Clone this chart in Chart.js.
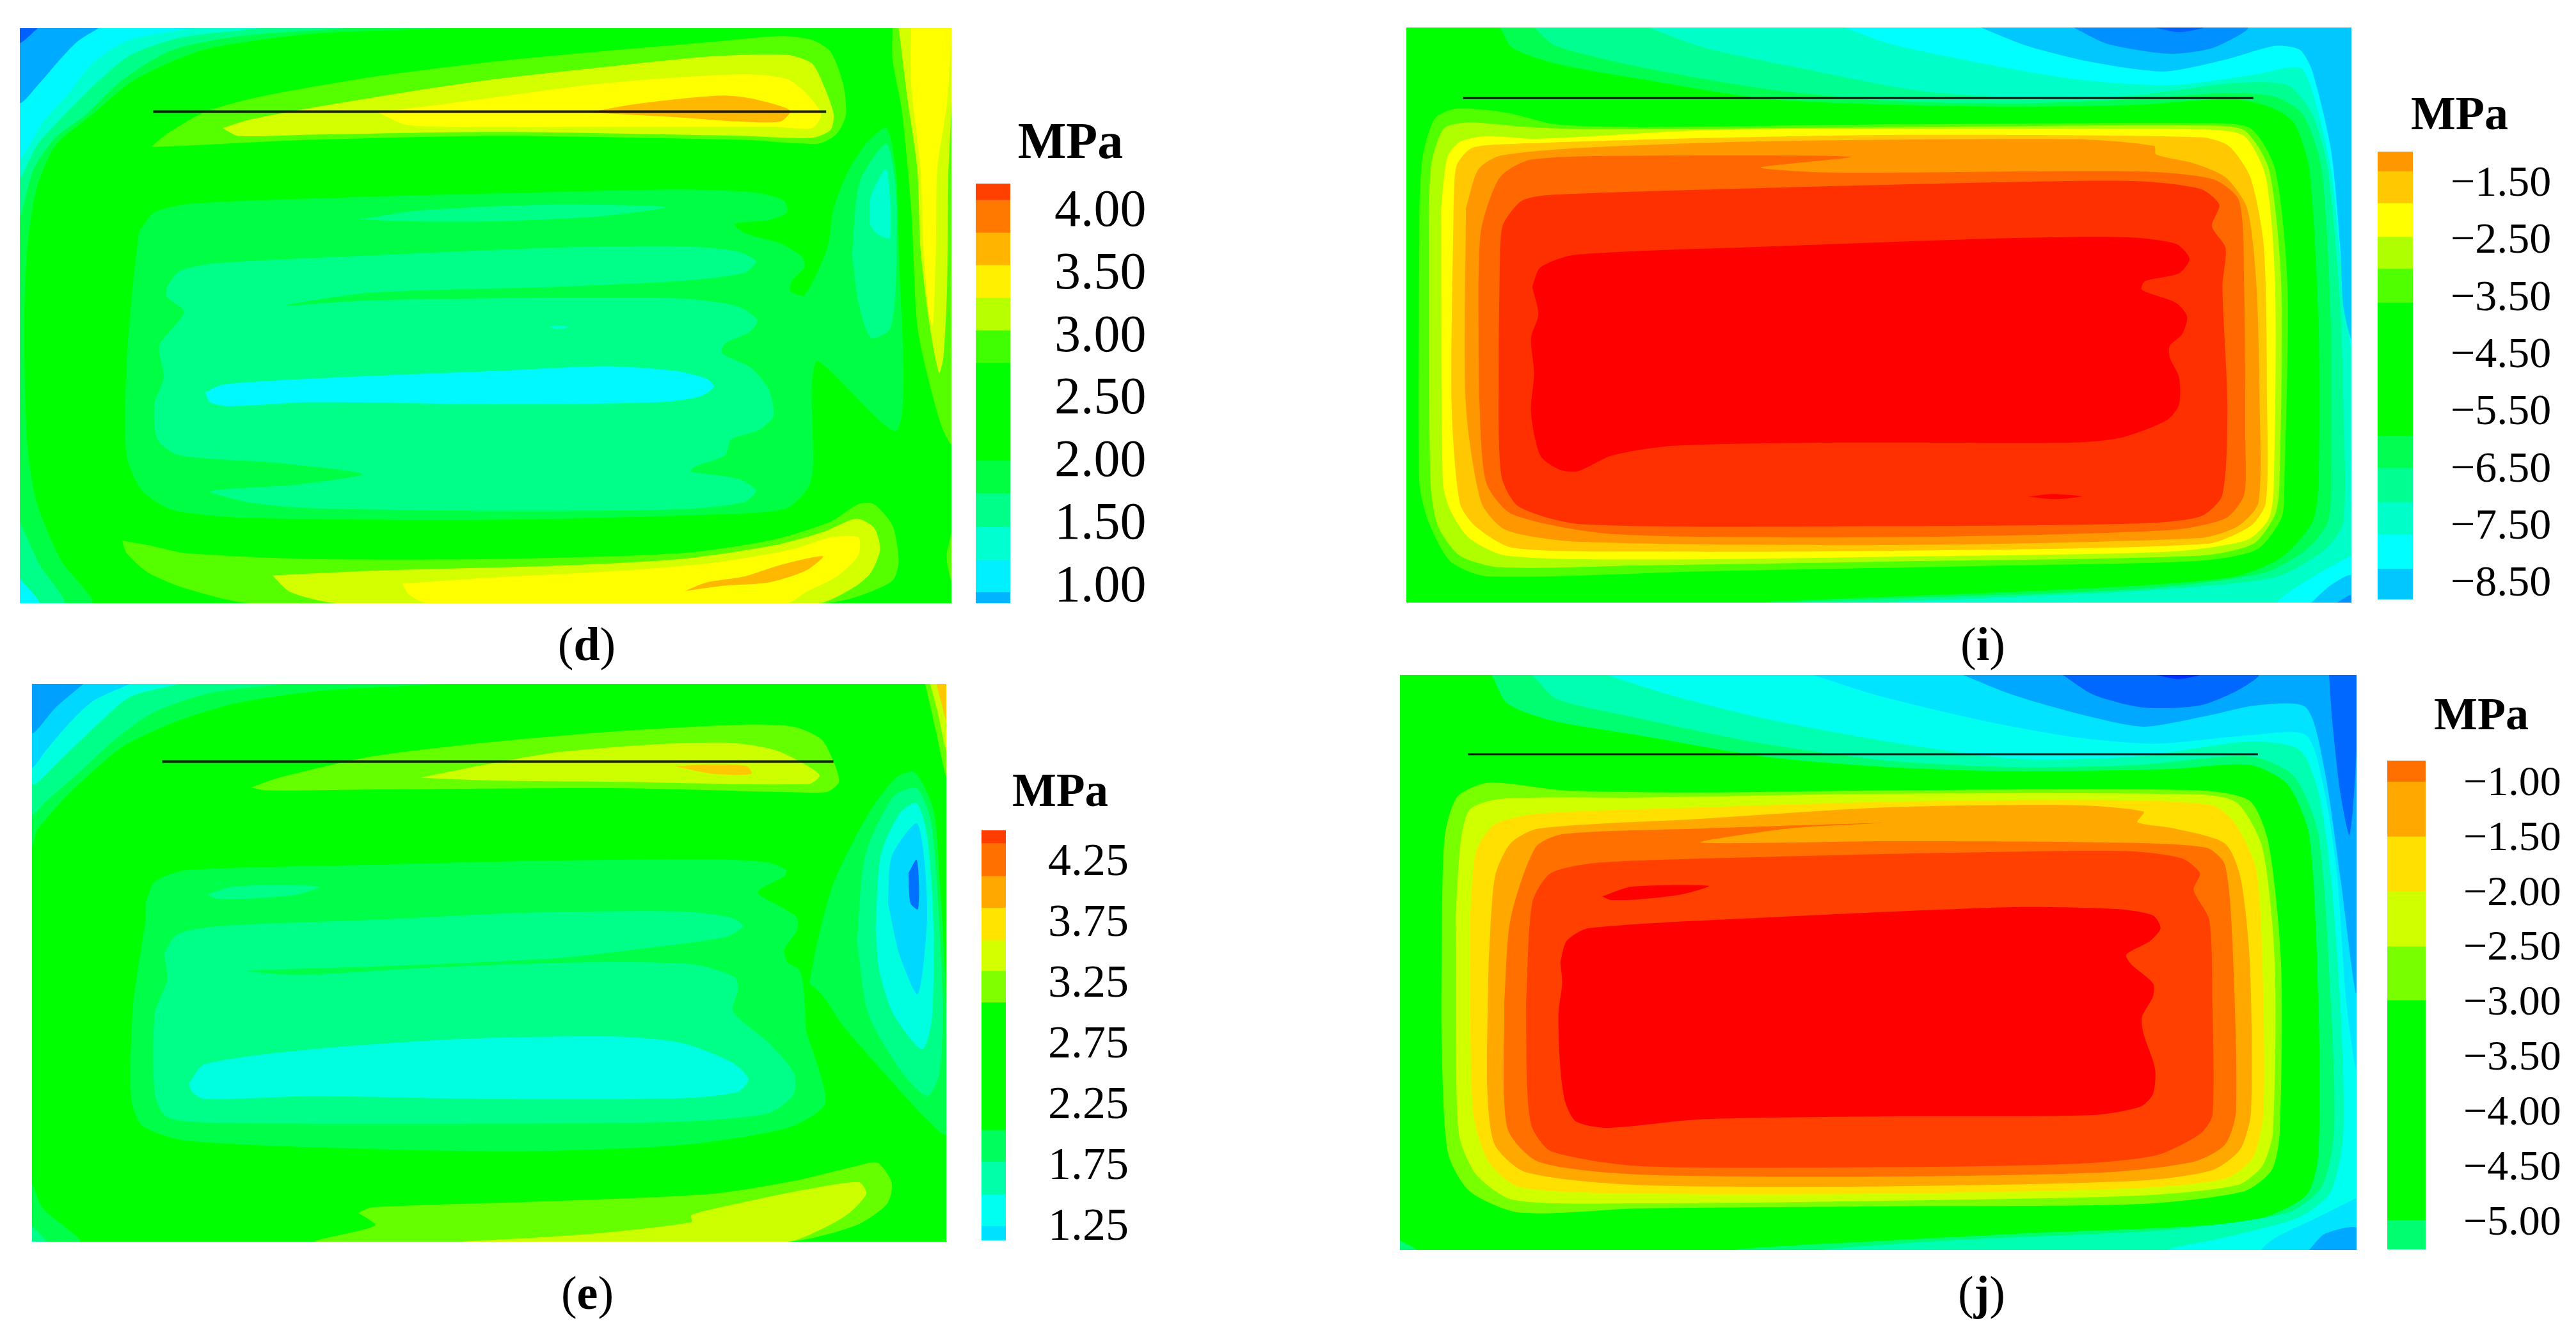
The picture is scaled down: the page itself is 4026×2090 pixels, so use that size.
<!DOCTYPE html>
<html>
<head>
<meta charset="utf-8">
<title>Stress contours</title>
<script src="https://cdn.jsdelivr.net/npm/chart.js@4/dist/chart.umd.min.js"></script>
<style>
  html, body { margin: 0; padding: 0; background: #fff; width: 4026px; height: 2090px; overflow: hidden; }
  canvas { position: absolute; }
  .txt { position: absolute; font-family: "Liberation Serif", serif; color: #000; transform: translate(-50%, -50%); white-space: nowrap; line-height: 1; }
  .unit { font-weight: bold; }
</style>
</head>
<body>
<script>
// colour bars: band edges (MPa), band colours, tick labels
const dTicks = [4, 3.5, 3, 2.5, 2, 1.5, 1];
const dBarEdges = [4.20, 4.07, 3.81, 3.55, 3.29, 3.03, 2.77, 1.99, 1.73, 1.46, 1.20, 0.94, 0.85];
const dBarColors = ['#ff4000', '#ff7800', '#ffb400', '#fff000', '#b8ff00', '#40ff00', '#00ff00', '#00ff40', '#00ff88', '#00ffd0', '#00f0ff', '#00b4ff'];
const eTicks = [4.25, 3.75, 3.25, 2.75, 2.25, 1.75, 1.25];
const eBarEdges = [4.495, 4.39, 4.12, 3.86, 3.59, 3.34, 3.08, 2.03, 1.77, 1.50, 1.24, 1.12];
const eBarColors = ['#ff3c00', '#ff7000', '#ffa800', '#ffe400', '#d4ff00', '#80ff00', '#00ff00', '#00ff5c', '#00ffa8', '#00fff0', '#00e0ff'];
const iTicks = [-1.5, -2.5, -3.5, -4.5, -5.5, -6.5, -7.5, -8.5];
const iBarEdges = [-0.96, -1.30, -1.86, -2.45, -3.01, -3.60, -5.93, -6.49, -7.09, -7.66, -8.26, -8.80];
const iBarColors = ['#ff9800', '#ffc800', '#ffff00', '#b0ff00', '#50ff00', '#00ff00', '#00ff50', '#00ff90', '#00ffc8', '#00ffff', '#00c8ff'];
const jTicks = [-1, -1.5, -2, -2.5, -3, -3.5, -4, -4.5, -5];
const jBarEdges = [-0.81, -1.00, -1.50, -2.00, -2.50, -2.99, -4.99, -5.26];
const jBarColors = ['#ff7000', '#ffa800', '#ffe000', '#d0ff00', '#78ff00', '#00ff00', '#00ff70'];

// contour levels of each plate and their colours
const dLevels = [0.6, 0.8, 1.0, 1.3, 1.6, 1.85, 2.9, 3.15, 3.4, 3.7];
const dColors = ['#0060ff', '#00aaff', '#00f8ff', '#00ffd0', '#00ff88', '#00ff44', '#55ff00', '#d4ff00', '#ffff00', '#ffb800'];
const eLevels = [0.9, 1.1, 1.3, 1.6, 1.9, 3.2, 3.45, 3.7, 1.0];
const eColors = ['#0070ff', '#00a0ff', '#00ffe0', '#00ff88', '#00ff48', '#66ff00', '#ccff00', '#ffc800', '#00d8ff'];
const iLevels = [-9.5, -9, -8.5, -8, -7.4, -6.8, -6.2, -3.3, -2.7, -2.2, -1.6, -1.1, -0.7, -0.3, 0];
const iColors = ['#0060ff', '#0090ff', '#00c8ff', '#00ffff', '#00ffc8', '#00ff90', '#00ff50', '#50ff00', '#b0ff00', '#ffff00', '#ffc800', '#ff9800', '#ff6800', '#ff3000', '#ff0000'];
const jLevels = [-7, -6.5, -6, -5.7, -5.4, -5.1, -5, -2.8, -2.2, -1.7, -1.2, -0.9, -0.6, -0.2];
const jColors = ['#0030ff', '#0068ff', '#00a8ff', '#00e4ff', '#00fff0', '#00ffb0', '#00ff70', '#78ff00', '#d0ff00', '#ffe000', '#ffa800', '#ff7000', '#ff4000', '#ff0000'];

// contour outlines on the plate, [level, outline], drawn from back to front
const dContours = [
  [1.85, [[720,40],[500,55],[330,95],[220,170],[150,260],[90,340],[60,450],[45,600],[40,800],[45,1100],[60,1250],[100,1400],[150,1508],[33,1508],[33,40]]],
  [1.6, [[560,40],[390,60],[280,95],[200,170],[140,260],[90,320],[55,400],[33,520],[33,40]]],
  [1.6, [[33,1300],[65,1410],[105,1508],[33,1508]]],
  [1.3, [[420,40],[290,65],[210,110],[150,190],[100,270],[60,340],[33,420],[33,40]]],
  [1.0, [[310,40],[210,70],[150,130],[110,210],[70,280],[33,370],[33,40]]],
  [1.0, [[33,1445],[65,1508],[33,1508]]],
  [0.8, [[160,40],[125,75],[95,125],[65,180],[33,230],[33,40]]],
  [0.6, [[62,40],[33,78],[33,40]]],
  [2.9, [[1440,40],[1535,40],[1535,1100],[1520,1060],[1500,950],[1480,800],[1470,500],[1455,250],[1440,120]]],
  [2.9, [[1535,1330],[1527,1390],[1535,1450]]],
  [3.15, [[1450,40],[1535,40],[1535,230],[1530,420],[1528,700],[1522,880],[1515,920],[1500,800],[1485,600],[1480,400],[1465,230]]],
  [3.4, [[1470,40],[1535,40],[1528,230],[1512,400],[1510,600],[1505,800],[1498,760],[1490,600],[1485,400],[1470,180]]],
  [2.9, [[245,343],[270,310],[330,255],[420,215],[600,165],[800,125],[1000,95],[1150,75],[1260,60],[1310,70],[1340,100],[1360,180],[1365,260],[1350,310],[1320,335],[1200,325],[800,315],[500,325],[300,340]]],
  [3.15, [[360,295],[400,275],[480,250],[650,205],[800,170],[1000,135],[1150,112],[1270,108],[1310,130],[1330,190],[1345,260],[1340,300],[1310,320],[1200,315],[800,305],[500,312],[385,315]]],
  [3.4, [[610,255],[760,225],[950,185],[1100,165],[1210,158],[1270,170],[1300,205],[1325,260],[1310,295],[1250,292],[1000,292],[800,292],[660,288]]],
  [3.7, [[950,255],[1020,235],[1100,220],[1170,212],[1220,222],[1275,250],[1260,278],[1190,278],[1100,268]]],
  [1.85, [[225,560],[250,510],[310,488],[600,470],[900,458],[1100,452],[1220,460],[1265,480],[1270,510],[1240,530],[1185,540],[1205,565],[1260,590],[1295,625],[1298,650],[1278,685],[1275,710],[1298,722],[1335,600],[1345,500],[1370,400],[1400,330],[1430,295],[1445,400],[1450,600],[1448,1065],[1320,890],[1310,950],[1312,1150],[1305,1210],[1270,1265],[1180,1280],[800,1295],[400,1290],[280,1270],[230,1220],[205,1130],[205,900],[215,700]]],
  [1.6, [[270,700],[290,660],[350,640],[600,620],[900,600],[1100,597],[1190,610],[1220,635],[1200,665],[1100,685],[900,700],[600,715],[460,748],[600,735],[900,728],[1100,730],[1190,750],[1222,785],[1210,815],[1170,845],[1165,870],[1210,905],[1240,960],[1248,1030],[1225,1065],[1180,1090],[1170,1130],[1120,1160],[1115,1172],[1190,1190],[1220,1220],[1200,1250],[1100,1268],[800,1272],[500,1265],[400,1250],[340,1222],[480,1205],[585,1178],[450,1150],[290,1130],[255,1090],[250,1000],[265,930],[258,850],[298,765],[270,725]]],
  [1.6, [[580,528],[680,505],[900,490],[1075,497],[970,520],[800,533],[650,533]]],
  [1.6, [[1375,620],[1380,500],[1390,420],[1430,335],[1445,450],[1445,700],[1435,810],[1405,830],[1385,740]]],
  [1.3, [[1403,540],[1405,470],[1430,400],[1436,575],[1415,565]]],
  [1.0, [[332,970],[360,950],[500,935],[800,915],[980,903],[1090,915],[1140,935],[1152,955],[1130,980],[1060,995],[800,1000],[500,995],[370,1005],[340,995]]],
  [1.3, [[885,803],[900,799],[918,803],[900,808]]],
  [2.9, [[198,1348],[240,1360],[300,1380],[500,1395],[800,1395],[1100,1380],[1250,1345],[1340,1300],[1385,1255],[1410,1255],[1440,1310],[1450,1400],[1440,1450],[1385,1490],[1330,1508],[405,1508],[300,1470],[240,1430],[205,1380]]],
  [3.15, [[440,1437],[600,1425],[900,1412],[1100,1395],[1250,1360],[1330,1325],[1382,1292],[1410,1315],[1420,1370],[1405,1430],[1380,1465],[1320,1508],[545,1508],[470,1480]]],
  [3.4, [[650,1458],[800,1442],[1000,1425],[1150,1405],[1280,1370],[1340,1340],[1385,1340],[1385,1385],[1350,1440],[1300,1480],[1270,1508],[690,1508],[660,1485]]],
  [3.7, [[1105,1477],[1140,1455],[1200,1440],[1260,1410],[1328,1388],[1300,1425],[1240,1455],[1170,1463],[1135,1470]]]
];
const eContours = [
  [1.9, [[720,44],[520,60],[380,90],[280,135],[200,190],[150,250],[100,320],[60,390],[52,430],[52,44]]],
  [1.9, [[52,1220],[70,1280],[130,1358],[52,1358]]],
  [1.6, [[460,44],[340,65],[250,110],[190,170],[130,250],[75,320],[52,350],[52,44]]],
  [1.6, [[52,1320],[75,1358],[52,1358]]],
  [1.3, [[290,44],[210,75],[150,150],[100,220],[52,280],[52,44]]],
  [1.0, [[210,44],[150,85],[110,140],[75,200],[52,240],[52,44]]],
  [1.1, [[135,44],[90,100],[52,160],[52,44]]],
  [3.2, [[1492,44],[1526,44],[1526,260],[1510,160]]],
  [3.45, [[1500,44],[1526,44],[1526,200],[1512,110]]],
  [3.7, [[1510,44],[1526,44],[1526,130],[1518,90]]],
  [3.2, [[405,288],[450,265],[600,215],[800,180],[1000,155],[1200,140],[1280,145],[1325,175],[1345,230],[1353,275],[1335,298],[1300,300],[1000,290],[600,293],[430,295]]],
  [3.45, [[678,265],[780,235],[900,205],[1050,187],[1180,183],[1250,200],[1300,235],[1322,260],[1305,280],[1000,275],[800,272]]],
  [3.7, [[1088,238],[1150,234],[1205,238],[1212,256],[1150,256]]],
  [1.9, [[235,560],[250,510],[300,483],[600,470],[900,460],[1150,457],[1240,465],[1268,482],[1265,497],[1222,535],[1260,570],[1285,595],[1285,625],[1265,670],[1270,700],[1290,720],[1298,800],[1300,860],[1320,950],[1330,1035],[1270,1090],[1100,1130],[850,1145],[600,1140],[300,1120],[230,1085],[212,1020],[215,800],[235,600]]],
  [1.6, [[265,680],[285,635],[350,615],[600,600],[850,583],[1100,580],[1180,595],[1198,615],[1170,640],[1050,665],[900,690],[600,710],[400,720],[480,730],[700,712],[950,700],[1120,705],[1185,735],[1190,765],[1182,815],[1240,890],[1280,960],[1280,1010],[1240,1055],[1100,1075],[800,1080],[350,1078],[270,1065],[250,1010],[250,820],[270,740]]],
  [1.6, [[335,540],[370,523],[440,518],[515,522],[480,540],[400,550],[350,550]]],
  [1.3, [[305,985],[330,940],[500,905],[750,880],[1000,875],[1100,890],[1180,935],[1207,975],[1190,1005],[1100,1020],[800,1022],[500,1015],[330,1022],[310,1005]]],
  [1.9, [[1305,750],[1320,640],[1345,510],[1400,350],[1445,265],[1475,252],[1505,340],[1515,500],[1526,800],[1526,1105],[1495,1070],[1450,1000],[1360,850],[1325,775]]],
  [1.6, [[1382,650],[1395,450],[1440,310],[1478,290],[1500,360],[1510,500],[1520,800],[1515,960],[1495,1015],[1450,950],[1400,820]]],
  [1.3, [[1412,620],[1420,450],[1450,350],[1478,325],[1495,400],[1505,600],[1503,830],[1487,905],[1440,820],[1418,720]]],
  [1.0, [[1432,560],[1438,450],[1478,372],[1490,450],[1495,600],[1480,775],[1450,680]]],
  [0.9, [[1465,490],[1478,458],[1482,520],[1480,575],[1468,560]]],
  [3.2, [[578,1290],[600,1277],[900,1262],[1150,1245],[1280,1215],[1380,1180],[1415,1172],[1438,1220],[1430,1270],[1380,1320],[1270,1358],[510,1358],[605,1320]]],
  [3.45, [[745,1358],[950,1340],[1115,1312],[1115,1295],[1200,1265],[1300,1235],[1385,1218],[1397,1245],[1370,1290],[1330,1325],[1270,1358]]]
];
const iContours = [
  [-6.2, [[170,38],[190,90],[260,130],[400,170],[600,220],[800,235],[1000,240],[1200,235],[1350,220],[1410,240],[1450,280],[1475,400],[1490,800],[1490,1200],[1480,1300],[1430,1390],[1350,1440],[1100,1470],[600,1505],[1543,1505],[1543,38]]],
  [-6.8, [[225,38],[260,85],[400,140],[600,195],[800,225],[1000,232],[1200,220],[1340,205],[1420,215],[1465,260],[1495,400],[1510,800],[1510,1200],[1505,1300],[1470,1370],[1400,1430],[1200,1470],[800,1495],[640,1505],[1543,1505],[1543,38]]],
  [-7.4, [[410,38],[500,90],[650,140],[850,200],[1050,220],[1200,210],[1350,180],[1440,185],[1480,260],[1505,400],[1525,750],[1530,1000],[1530,1300],[1500,1370],[1420,1440],[1200,1475],[1000,1490],[800,1505],[1543,1505],[1543,38]]],
  [-8, [[725,38],[800,80],[950,130],[1100,170],[1250,185],[1380,160],[1460,140],[1480,200],[1510,400],[1530,700],[1543,850],[1543,38]]],
  [-8, [[1543,1385],[1480,1440],[1425,1505],[1543,1505]]],
  [-8.5, [[945,38],[1020,85],[1120,125],[1240,150],[1340,120],[1420,85],[1460,95],[1480,150],[1510,350],[1525,600],[1530,750],[1543,830],[1543,38]]],
  [-8.5, [[1478,1505],[1510,1460],[1543,1435],[1543,1505]]],
  [-9, [[1095,38],[1150,80],[1250,105],[1320,90],[1375,38]]],
  [-9, [[1520,1505],[1543,1485],[1543,1505]]],
  [-9.5, [[1225,38],[1265,50],[1305,38]]],
  [-3.3, [[40,500],[45,370],[65,270],[100,245],[180,255],[260,285],[400,292],[800,285],[1300,282],[1380,295],[1420,400],[1440,700],[1435,1200],[1430,1290],[1390,1370],[1300,1398],[1000,1410],[500,1425],[150,1438],[90,1400],[55,1300],[40,1200]]],
  [-2.7, [[55,500],[60,380],[80,295],[120,280],[200,290],[300,297],[800,292],[1300,288],[1370,300],[1410,400],[1430,700],[1427,1200],[1420,1280],[1385,1355],[1300,1385],[800,1400],[400,1410],[170,1415],[105,1385],[70,1310],[58,1200]]],
  [-2.2, [[75,500],[85,370],[105,330],[150,315],[230,322],[500,300],[800,297],[1300,298],[1370,315],[1405,420],[1420,700],[1418,1200],[1410,1290],[1375,1345],[1250,1375],[800,1388],[400,1395],[180,1385],[120,1340],[90,1270],[78,1200]]],
  [-1.6, [[95,500],[100,390],[125,345],[190,335],[500,320],[800,312],[1300,318],[1345,340],[1380,420],[1402,600],[1407,1000],[1405,1250],[1380,1310],[1310,1355],[800,1373],[400,1375],[190,1365],[130,1310],[105,1250],[92,1000]]],
  [-1.1, [[115,500],[135,400],[170,365],[300,345],[600,328],[1100,323],[1225,340],[1228,362],[1290,385],[1340,420],[1375,500],[1390,700],[1395,1000],[1393,1250],[1360,1310],[1300,1340],[800,1358],[300,1350],[180,1320],[140,1250],[115,1000]]],
  [-0.7, [[135,700],[140,550],[170,420],[220,375],[400,365],[735,368],[590,395],[700,408],[1200,405],[1320,425],[1362,480],[1370,700],[1372,1100],[1370,1230],[1340,1290],[1250,1320],[800,1338],[350,1330],[190,1280],[148,1200],[137,1000]]],
  [-0.3, [[170,600],[175,540],[205,480],[250,465],[600,447],[1000,432],[1200,430],[1300,450],[1330,490],[1318,545],[1340,600],[1335,700],[1343,1000],[1335,1230],[1300,1285],[1200,1303],[800,1310],[300,1305],[200,1260],[172,1180],[168,900]]],
  [0, [[222,700],[235,650],[290,618],[600,597],[1000,575],[1180,573],[1260,590],[1282,628],[1265,665],[1210,685],[1205,707],[1260,740],[1278,775],[1270,820],[1250,850],[1250,880],[1265,930],[1265,1000],[1245,1040],[1170,1085],[1090,1097],[700,1097],[450,1105],[350,1130],[295,1170],[265,1165],[235,1130],[220,1020],[225,920],[220,830],[232,770]]],
  [0, [[1022,1235],[1060,1228],[1108,1234],[1065,1241]]]
];
const jContours = [
  [-5, [[165,23],[190,90],[260,130],[400,165],[600,215],[800,240],[1000,250],[1250,245],[1380,235],[1440,280],[1475,400],[1490,800],[1490,1150],[1470,1250],[1380,1310],[1000,1340],[560,1378],[1551,1378],[1551,23]]],
  [-5.1, [[230,23],[270,80],[400,125],[600,185],[800,225],[1000,240],[1200,235],[1380,215],[1450,260],[1490,400],[1510,800],[1515,1100],[1495,1230],[1440,1290],[1250,1330],[900,1355],[700,1378],[1551,1378],[1551,23]]],
  [-5.4, [[350,23],[450,70],[600,125],[800,180],[1000,220],[1200,215],[1380,180],[1460,200],[1490,300],[1510,500],[1525,800],[1530,1100],[1510,1240],[1460,1300],[1350,1345],[1250,1378],[1551,1378],[1551,23]]],
  [-5.7, [[680,23],[780,70],[950,130],[1100,170],[1230,185],[1380,165],[1470,165],[1500,300],[1520,500],[1535,800],[1551,950],[1551,23]]],
  [-5.7, [[1551,1255],[1490,1300],[1420,1350],[1400,1378],[1551,1378]]],
  [-6, [[920,23],[1000,70],[1120,120],[1210,145],[1310,120],[1390,95],[1470,100],[1500,250],[1525,500],[1551,770],[1551,23]]],
  [-6, [[1475,1378],[1500,1340],[1551,1325],[1551,1378]]],
  [-6.5, [[1080,23],[1130,70],[1210,100],[1300,95],[1360,60],[1393,23]]],
  [-6.5, [[1507,23],[1551,23],[1551,200],[1540,400],[1525,300],[1512,130]]],
  [-7, [[1230,23],[1265,33],[1300,23]]],
  [-5, [[18,1355],[45,1378],[18,1378]]],
  [-2.8, [[85,600],[90,400],[110,310],[160,277],[280,295],[500,300],[800,295],[1300,295],[1380,320],[1410,420],[1430,700],[1428,1100],[1415,1190],[1370,1240],[1200,1270],[800,1275],[400,1280],[210,1290],[130,1240],[95,1150],[85,900]]],
  [-2.2, [[107,600],[115,420],[130,340],[180,315],[400,312],[800,303],[1300,305],[1360,325],[1400,430],[1420,700],[1417,1100],[1400,1180],[1360,1225],[1200,1250],[800,1262],[400,1268],[200,1260],[140,1200],[112,1100]]],
  [-1.7, [[130,600],[140,440],[170,375],[240,350],[500,335],[800,322],[1150,318],[1320,330],[1355,370],[1390,480],[1400,700],[1402,1050],[1385,1160],[1340,1210],[1200,1232],[800,1245],[400,1245],[210,1230],[160,1170],[135,1050]]],
  [-1.2, [[160,700],[170,500],[195,420],[240,385],[500,362],[800,335],[1100,330],[1210,345],[1200,370],[1260,385],[1340,420],[1365,500],[1380,700],[1382,1050],[1365,1140],[1320,1190],[1200,1215],[800,1228],[400,1225],[220,1195],[170,1130],[158,1000]]],
  [-0.9, [[185,800],[195,600],[235,430],[280,398],[500,385],[790,372],[640,385],[500,418],[800,415],[1150,418],[1310,430],[1340,470],[1352,650],[1358,1050],[1340,1130],[1290,1170],[1150,1195],[800,1205],[400,1200],[240,1170],[190,1090]]],
  [-0.6, [[220,800],[230,560],[260,490],[340,465],[600,452],[900,442],[1180,438],[1270,455],[1300,490],[1290,530],[1315,600],[1320,800],[1320,1060],[1300,1105],[1230,1155],[1100,1175],[800,1183],[400,1180],[260,1145],[230,1090],[222,1000]]],
  [-0.2, [[275,700],[285,650],[320,620],[600,595],[1000,570],[1170,575],[1225,590],[1237,620],[1220,650],[1182,682],[1190,705],[1225,750],[1225,780],[1207,830],[1210,870],[1228,950],[1225,1010],[1205,1040],[1130,1060],[800,1063],[500,1070],[350,1090],[300,1075],[283,1030],[275,950],[272,820],[278,750]]],
  [-0.2, [[342,545],[390,522],[513,520],[470,540],[400,552],[355,553]]]
];
// the thin measuring line on each plate
const dLine = [[248,253],[1333,253]];
const eLine = [[262,227],[1344,227]];
const iLine = [[110,218],[1385,218]];
const jLine = [[127,210],[1393,210]];

function addCanvas(x, y, w, h, bg) {
  const c = document.createElement('canvas');
  c.width = w;
  c.height = h;
  c.style.left = x + 'px';
  c.style.top = y + 'px';
  c.style.width = w + 'px';
  c.style.height = h + 'px';
  if (bg) c.style.background = bg;
  document.body.appendChild(c);
  return c;
}

function addText(html, x, y, size, cls) {
  const t = document.createElement('div');
  t.className = 'txt ' + (cls || '');
  t.innerHTML = html;
  t.style.left = x + 'px';
  t.style.top = y + 'px';
  t.style.fontSize = size + 'px';
  document.body.appendChild(t);
}

function toPoints(pairs) {
  return pairs.map(p => ({ x: p[0], y: p[1] }));
}

function drawPlate(rect, xRange, yRange, contours, levels, colors, line, lineWidth) {
  const ctx = addCanvas(rect.x, rect.y, rect.w, rect.h, '#00ff00').getContext('2d');
  const n = contours.length;
  const datasets = contours.map((c, i) => ({
    data: toPoints(c[1].concat([c[1][0]])),
    showLine: true,
    fill: 'shape',
    backgroundColor: colors[levels.indexOf(c[0])],
    borderWidth: 0,
    pointRadius: 0,
    tension: 0.25,
    order: n - i
  }));
  datasets.push({
    data: toPoints(line),
    showLine: true,
    fill: false,
    borderColor: 'rgba(0,0,0,0.88)',
    borderWidth: lineWidth,
    pointRadius: 0,
    order: -1
  });
  new Chart(ctx, {
    type: 'scatter',
    data: { datasets: datasets },
    options: {
      responsive: false,
      animation: false,
      devicePixelRatio: 1,
      events: [],
      layout: { padding: 0 },
      plugins: { legend: { display: false }, tooltip: { enabled: false }, filler: { drawTime: 'beforeDatasetDraw', propagate: false } },
      scales: {
        x: { type: 'linear', display: false, min: xRange[0], max: xRange[1] },
        y: { type: 'linear', display: false, min: yRange[0], max: yRange[1], reverse: true }
      }
    }
  });
}

function drawBar(rect, barWidth, edges, colors, ticks, fontSize, gap, labelShift) {
  const ctx = addCanvas(rect.x, rect.y, rect.w, rect.h).getContext('2d');
  const datasets = colors.map((col, i) => ({
    data: [[edges[i + 1], edges[i]]],
    backgroundColor: col,
    borderWidth: 0,
    borderSkipped: false,
    barPercentage: 1,
    categoryPercentage: 1
  }));
  new Chart(ctx, {
    type: 'bar',
    data: { labels: ['MPa'], datasets: datasets },
    options: {
      responsive: false,
      animation: false,
      devicePixelRatio: 1,
      events: [],
      layout: { padding: 0 },
      plugins: { legend: { display: false }, tooltip: { enabled: false } },
      scales: {
        x: { display: false, stacked: false },
        y: {
          position: 'right',
          min: edges[edges.length - 1],
          max: edges[0],
          grid: { display: false, drawTicks: false },
          border: { display: false },
          // keep the bar at its full height, tick padding would squeeze it
          afterFit: s => { s.width = rect.w - barWidth; s.paddingTop = 0; s.paddingBottom = 0; },
          afterBuildTicks: s => { s.ticks = ticks.map(v => ({ value: v })); },
          ticks: {
            autoSkip: false,
            maxRotation: 0,
            padding: gap,
            labelOffset: labelShift,
            color: '#000',
            font: { family: '"Liberation Serif", serif', size: fontSize },
            callback: v => v.toFixed(2).replace('-', '\u2212')
          }
        }
      },
      datasets: { bar: { grouped: false } }
    }
  });
}

drawPlate({ x: 31, y: 44, w: 1456, h: 899 }, [33, 1535], [40, 1508], dContours, dLevels, dColors, dLine, 4);
drawPlate({ x: 50, y: 1069, w: 1429, h: 872 }, [52, 1526], [44, 1358], eContours, eLevels, eColors, eLine, 4);
drawPlate({ x: 2198, y: 43, w: 1477, h: 899 }, [19, 1543], [38, 1505], iContours, iLevels, iColors, iLine, 3);
drawPlate({ x: 2188, y: 1055, w: 1495, h: 899 }, [18, 1551], [23, 1378], jContours, jLevels, jColors, jLine, 3);

drawBar({ x: 1525, y: 287, w: 290, h: 656 }, 54, dBarEdges, dBarColors, dTicks, 82, 69, 5);
drawBar({ x: 1534, y: 1298, w: 270, h: 641 }, 38, eBarEdges, eBarColors, eTicks, 72, 66, 5);
drawBar({ x: 3716, y: 237, w: 290, h: 700 }, 55, iBarEdges, iBarColors, iTicks, 68, 59, 3);
drawBar({ x: 3731, y: 1189, w: 280, h: 764 }, 60, jBarEdges, jBarColors, jTicks, 66, 59, 4);

addText('MPa', 1673, 220, 80, 'unit');
addText('MPa', 1657, 1235, 73, 'unit');
addText('MPa', 3844, 177, 74, 'unit');
addText('MPa', 3878, 1116, 72, 'unit');

addText('(<b>d</b>)', 917, 1007, 74);
addText('(<b>e</b>)', 918, 2021, 74);
addText('(<b>i</b>)', 3099, 1007, 74);
addText('(<b>j</b>)', 3097, 2021, 74);
</script>
</body>
</html>
